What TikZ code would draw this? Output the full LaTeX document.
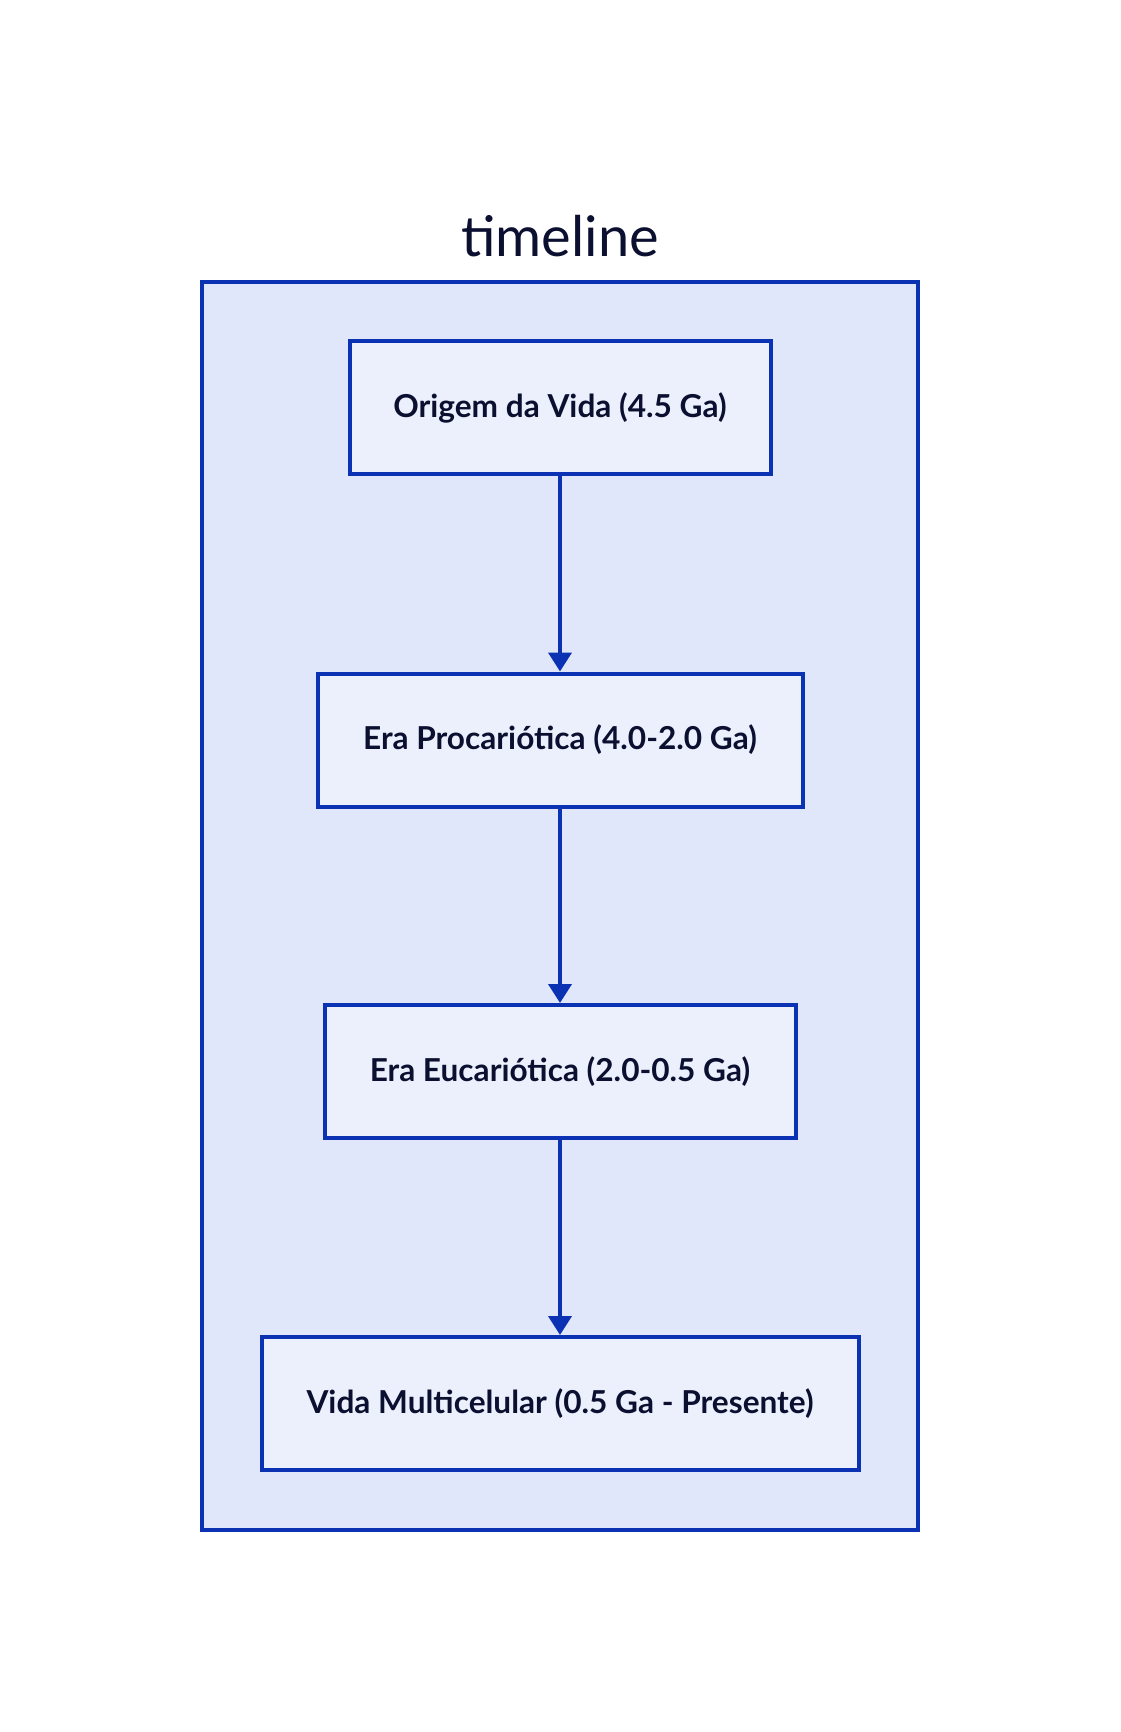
\documentclass[tikz,border=0pt]{standalone}
\usepackage{fontspec}
\setmainfont{Lato}
\usetikzlibrary{arrows.meta}
\definecolor{edge}{HTML}{0C32B4}
\definecolor{outerfill}{HTML}{E0E7FA}
\definecolor{nodefill}{HTML}{ECF0FC}
\definecolor{ink}{HTML}{0C1030}
\begin{document}
\begin{tikzpicture}[x=0.5pt,y=-0.5pt,
  stagebox/.style={draw=edge, line width=2pt, fill=nodefill, minimum height=66.5pt, inner sep=0pt, text=ink, font=\bfseries\fontsize{15.8}{18}\selectfont},
  flow/.style={draw=edge, line width=2pt, -{Triangle[length=9.5pt,width=11.5pt]}}]
\fill[white] (0,0) rectangle (1120,1732);
\useasboundingbox (0,0) rectangle (1120,1732);
\node[draw=edge, fill=outerfill, line width=2pt, minimum width=358pt, minimum height=624pt, inner sep=0pt] (frame) at (560,906) {};
\node[anchor=base, font=\fontsize{28}{32}\selectfont, text=ink, inner sep=0pt] (title) at (560,257) {timeline};
\node[stagebox, minimum width=210.5pt] (n1) at (560,407.5) {Origem da Vida (4.5 Ga)};
\node[stagebox, minimum width=242.5pt] (n2) at (560,740) {Era Procariótica (4.0-2.0 Ga)};
\node[stagebox, minimum width=235.5pt] (n3) at (560,1071.5) {Era Eucariótica (2.0-0.5 Ga)};
\node[stagebox, minimum width=298.5pt] (n4) at (560,1403.5) {Vida Multicelular (0.5 Ga - Presente)};
\draw[flow] (n1.south) -- (n2.north);
\draw[flow] (n2.south) -- (n3.north);
\draw[flow] (n3.south) -- (n4.north);
\end{tikzpicture}
\end{document}
